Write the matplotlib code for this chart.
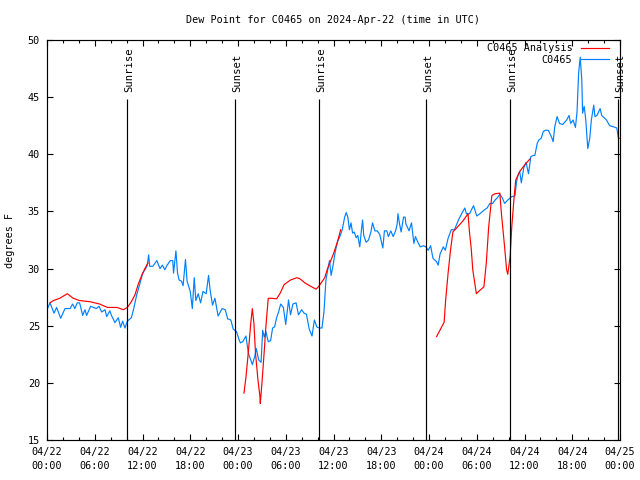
import numpy as np
import matplotlib
matplotlib.use("Agg")
import matplotlib.pyplot as plt

# ---- data (hours since 2024-04-22 00:00 UTC) ----
obs_hours = [0.0, 0.38, 0.88, 1.21, 1.72, 2.26, 2.9, 3.22, 3.5, 3.8, 4.1, 4.48, 4.77, 4.98, 5.48,
             6.2, 6.54, 6.87, 7.29, 7.5, 7.9, 8.1, 8.54, 8.96, 9.25, 9.5, 9.8, 10.1, 10.6, 10.9,
             11.27, 11.68, 12.02, 12.4, 12.6, 12.77, 12.9, 13.3, 13.8, 14.2, 14.5, 14.8, 15.1, 15.5,
             15.8, 15.9, 16.2, 16.4, 16.6, 16.9, 17.1, 17.4, 17.6, 18.0, 18.26, 18.5, 18.7, 19.0,
             19.3, 19.6, 20.0, 20.3, 20.5, 20.8, 21.1, 21.5, 22.0, 22.4, 22.7, 23.1, 23.4, 23.8,
             24.15, 24.3, 24.6, 25.0, 25.3, 25.6, 25.8, 26.1, 26.3, 26.6, 26.9, 27.1, 27.3, 27.5,
             27.8, 28.1, 28.35, 28.6, 28.85, 29.1, 29.36, 29.7, 30.0, 30.35, 30.6, 30.9, 31.3,
             31.6, 32.0, 32.3, 32.6, 32.95, 33.3, 33.6, 33.9, 34.2, 34.55, 34.8, 35.05, 35.25,
             35.5, 35.7, 35.95, 36.2, 36.5, 36.8, 37.1, 37.4, 37.6, 37.8, 38.0, 38.2, 38.4, 38.6,
             38.85, 39.05, 39.3, 39.5, 39.65, 39.8, 40.1, 40.4, 40.7, 40.9, 41.2, 41.5, 41.8,
             42.1, 42.2, 42.4, 42.7, 42.9, 43.2, 43.5, 43.8, 44.0, 44.1, 44.3, 44.5, 44.8, 45.0,
             45.1, 45.5, 45.8, 46.1, 46.3, 46.6, 46.9, 47.3, 47.6, 47.9, 48.2, 48.5, 48.95, 49.15,
             49.4, 49.8, 50.05, 50.4, 50.8, 51.2, 51.7, 52.1, 52.5, 52.7, 53.1, 53.3, 53.6, 54.0,
             54.4, 54.9, 55.3, 55.65, 56.0, 56.3, 56.6, 56.9, 57.2, 57.5, 57.9, 58.4, 58.8, 59.0,
             59.2, 59.4, 59.6, 59.9, 60.2, 60.5, 60.8, 61.1, 61.3, 61.6, 61.8, 62.1, 62.35, 62.6,
             63.0, 63.4, 63.6, 63.8, 64.1, 64.4, 64.8, 65.3, 65.6, 65.8, 66.1, 66.4, 66.6, 66.8,
             67.0, 67.2, 67.3, 67.5, 67.7, 67.95, 68.2, 68.4, 68.7, 68.85, 69.1, 69.5, 69.7, 70.0,
             70.3, 70.7, 71.2, 71.6, 71.8, 72.0]
obs_values = [26.4, 27.0, 26.1, 26.6, 25.65, 26.5, 26.5, 26.9, 26.5, 27.0, 27.0, 25.9, 26.4, 25.9, 26.7,
              26.5, 26.7, 26.2, 26.4, 25.8, 26.3, 25.9, 25.27, 25.7, 24.86, 25.4, 24.8, 25.4, 25.7, 26.5,
              27.7, 28.7, 29.6, 30.0, 30.3, 31.2, 30.2, 30.2, 30.7, 30.0, 30.3, 29.9, 30.3, 30.7,
              30.7, 29.6, 31.55, 29.6, 29.0, 28.9, 28.5, 30.8, 28.9, 28.0, 26.5, 29.2, 27.2, 27.8,
              27.0, 28.0, 27.8, 29.4, 28.1, 26.8, 27.4, 25.85, 26.5, 26.4, 25.6, 25.5, 24.7, 24.5,
              23.75, 23.5, 23.6, 24.1, 22.6, 22.0, 21.6, 22.3, 23.0, 22.0, 21.8, 24.6, 24.0, 24.5,
              23.6, 23.7, 24.8, 24.9, 25.7, 26.2, 26.9, 26.6, 25.1, 27.25, 25.95, 26.9, 27.0,
              25.95, 26.4, 26.1, 26.0, 24.7, 24.1, 25.5, 24.9, 24.8, 24.8, 26.2, 29.0, 29.8,
              30.7, 29.4, 30.3, 31.4, 32.35, 32.8, 33.4, 34.5, 34.9, 34.5, 33.4, 34.0, 33.1, 33.2,
              32.7, 32.9, 31.9, 33.3, 34.25, 32.9, 32.3, 32.5, 33.2, 34.0, 33.3, 33.3, 33.0,
              32.1, 31.8, 33.3, 33.3, 32.8, 33.3, 32.8, 33.3, 33.9, 34.8, 33.9, 33.2, 34.5, 34.5,
              33.9, 33.3, 34.0, 32.2, 32.8, 32.3, 31.9, 32.0, 31.9, 31.6, 32.0, 30.9, 30.6, 30.3,
              31.3, 31.9, 31.6, 32.65, 33.4, 33.4, 34.25, 34.8, 35.3, 34.8, 34.8, 35.1, 35.5, 34.6,
              34.8, 35.1, 35.3, 35.7, 35.7, 36.0, 36.2, 36.5, 36.2, 35.7, 36.0, 36.3, 36.35, 37.6,
              38.2, 38.5, 37.5, 38.8, 39.3, 38.3, 39.8, 39.9, 39.9, 40.96, 41.25, 41.4, 41.98, 42.1,
              42.1, 41.5, 41.1, 42.4, 43.3, 42.7, 42.6, 43.0, 43.4, 42.7, 43.0, 42.35, 43.7, 47.1,
              48.5, 46.5, 43.6, 44.2, 43.0, 40.5, 41.4, 43.0, 44.3, 43.3, 43.4, 44.0, 43.4, 43.2,
              43.0, 42.5, 42.4, 42.3, 41.4, 41.4]

ana_hours_1 = [0.38, 0.8, 1.6, 2.55, 3.3, 4.1, 5.4, 6.6, 7.6, 8.8, 9.6, 10.1, 10.6, 11.05, 11.5, 11.9, 12.3, 12.7]
ana_values_1 = [27.0, 27.2, 27.4, 27.8, 27.4, 27.2, 27.1, 26.9, 26.6, 26.6, 26.4, 26.6, 27.1, 27.7, 28.7, 29.4, 30.0, 30.5]
ana_hours_2 = [24.75, 25.0, 25.3, 25.6, 25.8, 26.0, 26.2, 26.5, 26.75, 26.8, 27.0, 27.3, 27.5, 27.8, 28.2,
               28.85, 29.3, 29.8, 30.6, 31.4, 31.8, 32.4, 33.0, 33.8, 34.1, 34.5, 34.9, 35.25, 35.6, 36.0, 36.5, 36.9]
ana_values_2 = [19.1, 20.5, 22.7, 25.2, 26.5, 25.2, 22.6, 20.3, 18.85, 18.2, 19.9, 22.8, 24.9, 27.4, 27.4,
                27.35, 27.85, 28.6, 29.0, 29.2, 29.1, 28.75, 28.5, 28.2, 28.4, 28.8, 29.2, 30.0, 30.6, 31.3, 32.35, 33.4]
ana_hours_3 = [48.95, 49.9, 50.1, 50.4, 50.7, 51.0, 51.6, 52.3, 52.9, 53.1, 53.3, 53.5, 53.95, 54.4, 54.9,
               55.2, 55.5, 55.9, 56.3, 56.9, 57.1, 57.5, 57.75, 57.9, 58.2, 58.4, 58.7, 58.9, 59.4, 60.0, 60.7]
ana_values_3 = [24.05, 25.3, 27.3, 29.6, 31.6, 33.2, 33.65, 34.2, 34.8, 33.1, 31.8, 29.9, 27.8, 28.1, 28.4,
                30.5, 33.65, 36.4, 36.55, 36.6, 34.8, 31.9, 29.9, 29.5, 31.1, 33.65, 36.3, 37.75, 38.5, 39.05, 39.6]

sun_hours = [10.05, 23.6, 34.15, 47.65, 58.2, 71.8]
sun_labels = ["Sunrise", "Sunset", "Sunrise", "Sunset", "Sunrise", "Sunset"]

tick_hours = [0, 6, 12, 18, 24, 30, 36, 42, 48, 54, 60, 66, 72]
tick_labels = ["04/22\n00:00", "04/22\n06:00", "04/22\n12:00", "04/22\n18:00",
               "04/23\n00:00", "04/23\n06:00", "04/23\n12:00", "04/23\n18:00",
               "04/24\n00:00", "04/24\n06:00", "04/24\n12:00", "04/24\n18:00",
               "04/25\n00:00"]

# ---- plot ----
FONT = "DejaVu Sans Mono"
FS = 7.3
plt.rcParams["font.family"] = FONT
plt.rcParams["font.size"] = FS

fig = plt.figure(figsize=(6.4, 4.8), dpi=100)
ax = fig.add_axes([47/640, 40/480, (620-47)/640, 400/480])

ana_h = ana_hours_1 + [np.nan] + ana_hours_2 + [np.nan] + ana_hours_3
ana_v = ana_values_1 + [np.nan] + ana_values_2 + [np.nan] + ana_values_3
ax.plot(ana_h, ana_v, color="#ff0000", lw=0.85, label="C0465 Analysis", zorder=3)
ax.plot(obs_hours, obs_values, color="#0080ff", lw=0.85, label="C0465", zorder=2)

for h, lab in zip(sun_hours, sun_labels):
    ax.vlines(h, 15, 44.84, color="black", lw=0.85, zorder=4)
    ax.text(h + 0.25, 45.45, lab, rotation=90, ha="center", va="bottom", fontsize=7.6)

ax.set_xlim(0, 72)
ax.set_ylim(15, 50)
ax.set_xticks(tick_hours)
ax.set_xticklabels(tick_labels, linespacing=1.45)
ax.set_xticks(np.arange(0, 73, 2), minor=True)
ax.set_yticks(np.arange(15, 51, 5))
ax.tick_params(which="both", direction="in", top=True, right=True, width=0.8)
ax.tick_params(which="major", length=4)
ax.tick_params(which="minor", length=2.2)
ax.tick_params(axis="x", which="major", pad=5)
ax.tick_params(axis="y", which="major", pad=5)
for s in ax.spines.values():
    s.set_linewidth(0.85)

ax.set_ylabel("degrees F", fontsize=FS)
ax.yaxis.set_label_coords(-0.056, 0.5)

fig.text(333.5/640, 1 - 20/480, "Dew Point for C0465 on 2024-Apr-22 (time in UTC)",
         ha="center", va="center", fontsize=FS)

ax.legend(loc="upper right", bbox_to_anchor=((609-47)/573, (440-43.5)/400),
          frameon=False, markerfirst=False, borderpad=0, borderaxespad=0,
          handlelength=2.8, handletextpad=0.8, labelspacing=0.1, fontsize=FS)

fig.savefig("out.png", dpi=100)
